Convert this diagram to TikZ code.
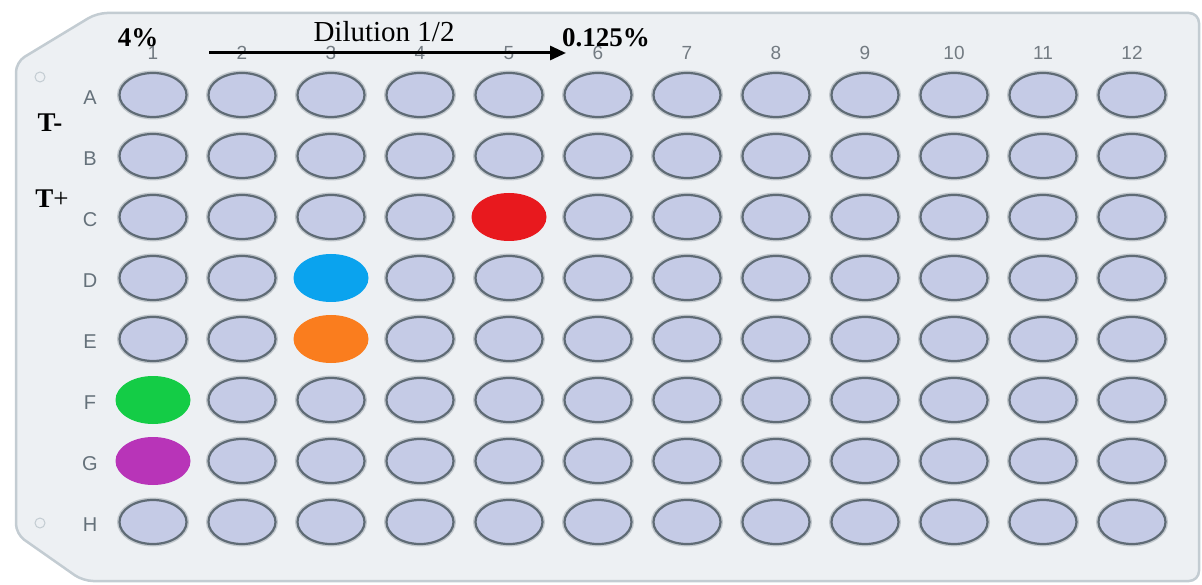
\documentclass[tikz,border=0pt]{standalone}
\usepackage{fontspec}
\setmainfont{Liberation Serif}
\newfontfamily\arialf{Liberation Sans}
\usetikzlibrary{shapes.geometric,arrows.meta}
\definecolor{plateFill}{HTML}{EDF0F3}
\definecolor{plateEdge}{HTML}{C3CCD2}
\definecolor{wellFill}{HTML}{C5CBE6}
\definecolor{wellEdge}{HTML}{5F6B75}
\definecolor{colGray}{HTML}{737B82}
\definecolor{rowGray}{HTML}{65717A}
\definecolor{wRed}{HTML}{E8191E}
\definecolor{wBlue}{HTML}{0AA3EE}
\definecolor{wOrange}{HTML}{FA7D1E}
\definecolor{wGreen}{HTML}{14CC46}
\definecolor{wPurple}{HTML}{B834B8}
\expandafter\def\csname wcC5\endcsname{wRed}
\expandafter\def\csname wcD3\endcsname{wBlue}
\expandafter\def\csname wcE3\endcsname{wOrange}
\expandafter\def\csname wcF1\endcsname{wGreen}
\expandafter\def\csname wcG1\endcsname{wPurple}
\begin{document}
\begin{tikzpicture}[x=1pt,y=-1pt,
  well/.style={ellipse, inner sep=0pt, minimum width=67pt, minimum height=44pt,
    fill=wellFill, draw=wellEdge, line width=2.2pt,
    preaction={draw=wellEdge!30!plateFill, line width=5pt}},
  cwell/.style={ellipse, inner sep=0pt, minimum width=75pt, minimum height=48pt, draw=none},
  collab/.style={anchor=base, inner sep=0pt, text=colGray, font=\arialf\fontsize{19}{19}\selectfont},
  rowlab/.style={anchor=base, inner sep=0pt, text=rowGray, font=\arialf\fontsize{20}{20}\selectfont},
  hole/.style={circle, inner sep=0pt, minimum size=10pt, draw=plateEdge, line width=1pt, fill=plateFill},
  annb/.style={anchor=base, inner sep=0pt, font=\bfseries\fontsize{27}{27}\selectfont},
  ann/.style={anchor=base, inner sep=0pt, font=\fontsize{29}{29}\selectfont},
  dilarrow/.style={line width=3pt, -{Triangle[length=16pt,width=14pt]}}
]
\useasboundingbox[fill=white] (0,0) rectangle (1202,585);
\draw[plateEdge, line width=2.5pt, fill=plateFill, rounded corners=10pt]
  (97,13) -- (1199,13) -- (1199,581) -- (83,581) -- (16,534) -- (16,62) -- cycle;
\node[hole] (holeTop) at (40,77) {};
\node[hole] (holeBot) at (40,523) {};
\foreach \c in {1,...,12} {
  \node[collab] (col\c) at ({153+89*(\c-1)},60) {\c};
}
\foreach \R [count=\r] in {A,B,C,D,E,F,G,H} {
  \node[rowlab] (row\R) at (90,{95+61*(\r-1)+9.5}) {\R};
  \foreach \c in {1,...,12} {
    \ifcsname wc\R\c\endcsname
      \node[cwell, fill=\csname wc\R\c\endcsname] (w\R\c) at ({153+89*(\c-1)},{95+61*(\r-1)}) {};
    \else
      \node[well] (w\R\c) at ({153+89*(\c-1)},{95+61*(\r-1)}) {};
    \fi
  }
}
\coordinate (arrS) at (209,53);
\coordinate (arrE) at (566,53);
\draw[dilarrow] (arrS) -- (arrE);
\node[annb] (start) at (138,47) {4\%};
\node[ann] (dil) at (384,42) {Dilution 1/2};
\node[annb] (end) at (606,47) {0.125\%};
\node[annb] (tminus) at (50,132) {T-};
\node[annb] (tplus) at (52,208) {T\mdseries+};
\end{tikzpicture}
\end{document}
